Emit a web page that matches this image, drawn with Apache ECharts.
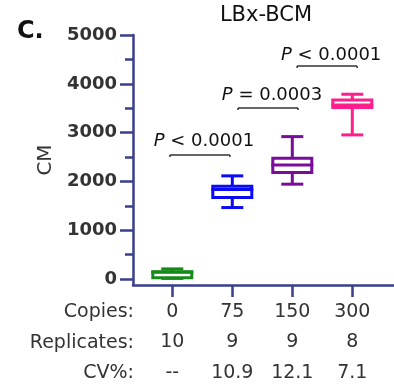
<!DOCTYPE html>
<html>
<head>
<meta charset="utf-8">
<script src="https://cdn.jsdelivr.net/npm/echarts@6/dist/echarts.min.js"></script>
<style>
  html, body { margin: 0; padding: 0; background: #fff; }
  #chart { width: 394px; height: 389px; }
</style>
</head>
<body>
<div id="chart"></div>
<script>
// groups on the x axis
const copies = ['0', '75', '150', '300']
const replicates = ['10', '9', '9', '8']
const cvPct = ['--', '10.9', '12.1', '7.1']
const rowNames = ['Copies:', 'Replicates:', 'CV%:']

// box values: min, Q1, median, Q3, max
const boxMin = [15, 1466, 1945, 2954]
const boxQ1 = [30, 1670, 2182, 3513]
const boxMedian = [140, 1838, 2340, 3568]
const boxQ3 = [150, 1900, 2477, 3670]
const boxMax = [210, 2115, 2919, 3787]

// comparison brackets (x in group units, y in CM)
const bracketFrom = [-0.04, 1.095, 2.08]
const bracketTo = [0.96, 2.095, 3.08]
const bracketY = [2544, 3506, 4365]
const pLabelY = [2830, 3772, 4590]
const pSign = ['<', '=', '<']
const pNumber = ['0.0001', '0.0003', '0.0001']

const yMajor = [0, 1000, 2000, 3000, 4000, 5000]
const yMinor = [500, 1500, 2500, 3500, 4500]

const boxColors = ['#168a16', '#0a0af5', '#7a0c9c', '#ff1e8c']
const axisColor = '#3a3f8c'
const font = 'DejaVu Sans'

const myChart = echarts.init(document.getElementById('chart'))

function renderBox (params, api) {
  const i = api.value(0)
  const pMin = api.coord([i, api.value(1)])
  const x = pMin[0]
  const yMin = pMin[1]
  const yQ1 = api.coord([i, api.value(2)])[1]
  const yMed = api.coord([i, api.value(3)])[1]
  const yQ3 = api.coord([i, api.value(4)])[1]
  const yMax = api.coord([i, api.value(5)])[1]
  const c = boxColors[params.dataIndex]
  const st = { stroke: c, lineWidth: 3, fill: null }
  return {
    type: 'group',
    children: [
      { type: 'line', shape: { x1: x, y1: yMax, x2: x, y2: yQ3 }, style: st },
      { type: 'line', shape: { x1: x, y1: yQ1, x2: x, y2: yMin }, style: st },
      { type: 'line', shape: { x1: x - 11, y1: yMax, x2: x + 11, y2: yMax }, style: st },
      { type: 'line', shape: { x1: x - 11, y1: yMin, x2: x + 11, y2: yMin }, style: st },
      { type: 'rect', shape: { x: x - 19.5, y: yQ3, width: 39, height: yQ1 - yQ3 }, style: { stroke: c, lineWidth: 3, fill: '#fff' } },
      { type: 'line', shape: { x1: x - 21, y1: yMed, x2: x + 21, y2: yMed }, style: st }
    ]
  }
}

function renderBracket (params, api) {
  const k = params.dataIndex
  const p1 = api.coord([api.value(0), api.value(2)])
  const p2 = api.coord([api.value(1), api.value(2)])
  const t = api.coord([(api.value(0) + api.value(1)) / 2, api.value(3)])
  const st = { stroke: '#333', lineWidth: 1.5, fill: null }
  return {
    type: 'group',
    children: [
      { type: 'line', shape: { x1: p1[0], y1: p1[1], x2: p2[0], y2: p2[1] }, style: st },
      { type: 'line', shape: { x1: p1[0], y1: p1[1], x2: p1[0], y2: p1[1] + 2 }, style: st },
      { type: 'line', shape: { x1: p2[0], y1: p2[1], x2: p2[0], y2: p2[1] + 2 }, style: st },
      {
        type: 'text',
        x: t[0] + 4,
        y: t[1],
        style: {
          text: '{i|P} ' + pSign[k] + ' ' + pNumber[k],
          fontSize: 18,
          fontFamily: font,
          fill: '#111',
          align: 'center',
          verticalAlign: 'middle',
          rich: {
            i: { fontStyle: 'italic', fontSize: 18, fontFamily: font, fill: '#111' }
          }
        }
      }
    ]
  }
}

const option = {
  animation: false,
  backgroundColor: '#fff',
  title: {
    text: 'LBx-BCM',
    left: 266,
    top: 5,
    textAlign: 'center',
    padding: 0,
    textStyle: { fontFamily: font, fontSize: 21, fontWeight: 'normal', color: '#111' }
  },
  graphic: [
    { type: 'text', left: 17, top: 20, style: { text: 'C.', fontFamily: font, fontSize: 24, fontWeight: 'bold', fill: '#111' } }
  ].concat(rowNames.map((n, k) => ({
    type: 'text',
    x: 134,
    y: 312.5 + k * 30.3,
    style: { text: n, fontFamily: font, fontSize: 19, fill: '#333', align: 'right', verticalAlign: 'middle' }
  }))),
  grid: {
    left: 133,
    right: 0,
    top: 35,
    bottom: 104,
    outerBoundsMode: 'none'
  },
  xAxis: {
    type: 'value',
    min: -0.655,
    max: 3.695,
    splitLine: { show: false },
    axisLine: { show: true, onZero: false, lineStyle: { color: axisColor, width: 2.5 } },
    axisTick: { show: true, length: 12, customValues: [0, 1, 2, 3], lineStyle: { color: axisColor, width: 2.5 } },
    axisLabel: {
      customValues: [0, 1, 2, 3],
      margin: 12,
      fontFamily: font,
      fontSize: 19,
      lineHeight: 30.3,
      color: '#333',
      formatter: function (v) {
        const i = Math.round(v)
        return copies[i] + '\n' + replicates[i] + '\n' + cvPct[i]
      }
    }
  },
  yAxis: [
    {
      type: 'value',
      min: -120,
      max: 5000,
      name: 'CM',
      nameLocation: 'middle',
      nameGap: 66,
      nameTextStyle: { fontFamily: font, fontSize: 20, color: '#333' },
      splitLine: { show: false },
      axisLine: { show: true, onZero: false, lineStyle: { color: axisColor, width: 2.5 } },
      axisTick: { show: true, length: 13, customValues: yMajor, lineStyle: { color: axisColor, width: 2.5 } },
      axisLabel: {
        customValues: yMajor,
        margin: 16,
        fontFamily: font,
        fontSize: 18,
        fontWeight: 'bold',
        color: '#333',
        formatter: function (v) { return String(v) }
      }
    },
    {
      // minor ticks
      type: 'value',
      min: -120,
      max: 5000,
      position: 'left',
      splitLine: { show: false },
      axisLine: { show: false, onZero: false },
      axisLabel: { show: false },
      axisTick: { show: true, length: 8, customValues: yMinor, lineStyle: { color: axisColor, width: 2.5 } }
    }
  ],
  series: [
    {
      type: 'custom',
      renderItem: renderBox,
      encode: { x: 0, y: [1, 2, 3, 4, 5] },
      data: copies.map((c, i) => [i, boxMin[i], boxQ1[i], boxMedian[i], boxQ3[i], boxMax[i]])
    },
    {
      type: 'custom',
      renderItem: renderBracket,
      encode: { x: [0, 1], y: [2, 3] },
      data: bracketY.map((y, k) => [bracketFrom[k], bracketTo[k], y, pLabelY[k]])
    }
  ]
}

myChart.setOption(option)
</script>
</body>
</html>
